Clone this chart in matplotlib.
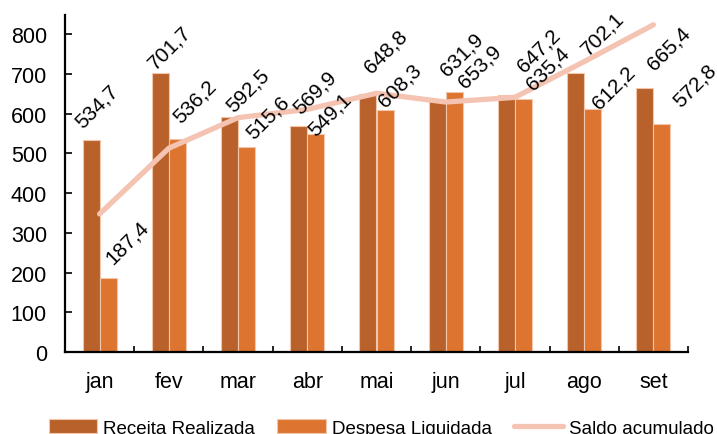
import matplotlib

matplotlib.use("Agg")
import matplotlib.pyplot as plt
import numpy as np

plt.rcParams["font.family"] = ["Liberation Sans", "DejaVu Sans"]

MONTHS = ["jan", "fev", "mar", "abr", "mai", "jun", "jul", "ago", "set"]
RECEITA = [534.7, 701.7, 592.5, 569.9, 648.8, 631.9, 647.2, 702.1, 665.4]
DESPESA = [187.4, 536.2, 515.6, 549.1, 608.3, 653.9, 635.4, 612.2, 572.8]
SALDO = [347.3, 512.8, 589.7, 610.5, 651.0, 629.0, 640.8, 730.7, 823.3]

# label offsets (pixels, from bar top centre)
R_OFFSETS = [(6, 34), (9, 26), (18, 27), (16, 34), (18, 43), (25, 47), (32, 45), (27, 40), (24, 40)]
D_OFFSETS = [(19, 36), (18, 38), (21, 30), (14, 20), (15, 25), (26, 26), (24, 32), (21, 22), (33, 39)]

C_RECEITA = "#B9612A"
C_DESPESA = "#DD7430"
C_SALDO = "#F4C3B1"
EDGE = "#F2C6AA"


def label_bars(ax, xs, values, offsets):
    for x, v, (dx, dy) in zip(xs, values, offsets):
        ax.annotate(f"{v:.1f}".replace(".", ","), (x, v), xytext=(dx, dy),
                    textcoords="offset pixels", ha="center", va="center",
                    rotation=45, fontsize=15, zorder=5)


def main() -> None:
    fig = plt.figure(figsize=(7.17, 4.35), dpi=100)
    ax = fig.add_axes([65 / 717, 1 - 353 / 435, 623 / 717, 337 / 435])
    x = np.arange(len(MONTHS))
    w = 0.246

    b1 = ax.bar(x - w / 2, RECEITA, w, color=C_RECEITA, edgecolor=EDGE, linewidth=0.8,
                label="Receita Realizada", zorder=2)
    b2 = ax.bar(x + w / 2, DESPESA, w, color=C_DESPESA, edgecolor=EDGE, linewidth=0.8,
                label="Despesa Liquidada", zorder=2)
    (ln,) = ax.plot(x, SALDO, color=C_SALDO, lw=3.8, solid_capstyle="round",
                    label="Saldo acumulado", zorder=3)

    label_bars(ax, x - w / 2, RECEITA, R_OFFSETS)
    label_bars(ax, x + w / 2, DESPESA, D_OFFSETS)

    ax.set_xlim(-0.5, len(MONTHS) - 0.5)
    ax.set_ylim(0, 848)
    ax.set_yticks(range(0, 801, 100))
    ax.set_xticks(x, MONTHS)
    ax.set_xticks(np.arange(-0.5, len(MONTHS)), minor=True)
    ax.tick_params(axis="x", which="major", length=0, pad=14, labelsize=15.5)
    ax.tick_params(axis="x", which="minor", direction="in", length=4, width=1.2)
    ax.tick_params(axis="y", direction="in", length=5, width=1.2, pad=13, labelsize=15.5)
    for side in ("top", "right"):
        ax.spines[side].set_visible(False)
    for side in ("left", "bottom"):
        ax.spines[side].set_linewidth(1.6)

    fig.legend(handles=[b1, b2, ln], loc="center", bbox_to_anchor=(381 / 717, 6 / 435),
               ncol=3, frameon=False, fontsize=13.5, handlelength=2.6, handletextpad=0.3,
               columnspacing=1.2, borderaxespad=0)
    fig.savefig("out.png", dpi=100)


if __name__ == "__main__":
    main()
